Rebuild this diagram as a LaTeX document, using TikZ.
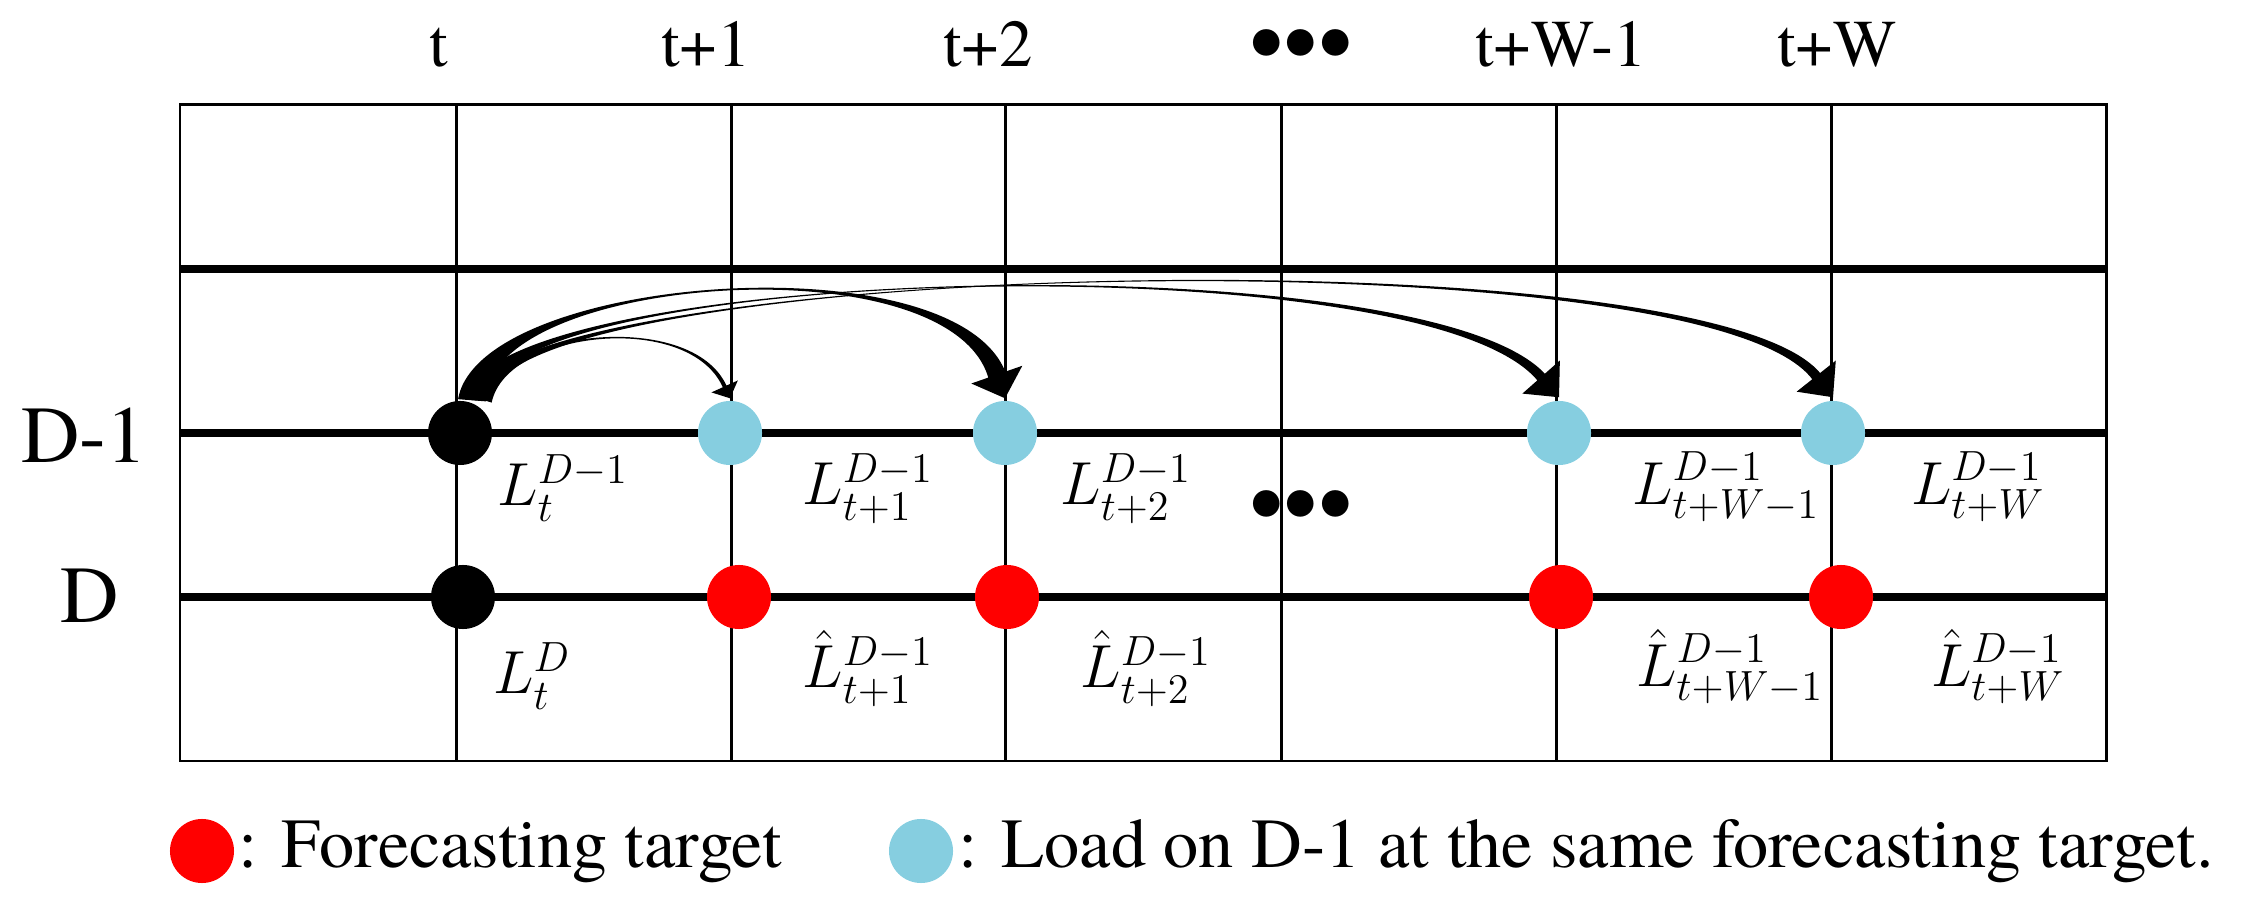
\documentclass[tikz,border=0pt]{standalone}
\usepackage{fontspec}
\setmainfont{TeX Gyre Termes}
\usetikzlibrary{calc}
\definecolor{dotblue}{RGB}{134,206,224}
\definecolor{dotred}{RGB}{255,0,0}
% tapered curved arrow: start, ctrl1, ctrl2, tip, start width, mid offset, end width, head length, head width (px)
\newcommand{\tarrow}[9]{%
  \pgfmathsetlengthmacro\tpa{#5*0.14226pt}%
  \pgfmathsetlengthmacro\tpm{#6*0.28453pt}%
  \pgfmathsetlengthmacro\tpb{#7*0.14226pt}%
  \pgfmathsetlengthmacro\tpL{#8*0.28453pt}%
  \pgfmathsetlengthmacro\tpW{#9*0.14226pt}%
  \coordinate (tq) at ($(#4)!\tpL!(#3)$);
  \fill ($(#1)!\tpa!90:(#2)$) .. controls ($(#2)!\tpm!-90:(#1)$) and ($(#3)!\tpm!90:(tq)$) .. ($(tq)!\tpb!-90:(#3)$)
     -- ($(tq)!\tpW!-90:(#3)$) -- (#4) -- ($(tq)!\tpW!90:(#3)$) -- ($(tq)!\tpb!90:(#3)$)
     .. controls ($(#3)!\tpm!-90:(tq)$) and ($(#2)!\tpm!90:(#1)$) .. ($(#1)!\tpa!-90:(#2)$) -- cycle;
}
\begin{document}
\begin{tikzpicture}[x=0.01cm,y=-0.01cm,
  gridline/.style={line width=0.85pt},
  thickline/.style={line width=2pt},
  dotnode/.style={circle,inner sep=0pt,minimum size=0.64cm},
  bdot/.style={dotnode,fill=black},
  cdot/.style={dotnode,fill=dotblue},
  rdot/.style={dotnode,fill=dotred},
  toplab/.style={inner sep=0pt,anchor=base,font=\fontsize{19pt}{22pt}\selectfont},
  sidelab/.style={inner sep=0pt,anchor=base,font=\fontsize{23pt}{26pt}\selectfont},
  mlab/.style={inner sep=0pt,anchor=base,font=\fontsize{17pt}{20pt}\selectfont},
  leglab/.style={inner sep=0pt,anchor=base west,font=\fontsize{20pt}{24pt}\selectfont},
  dotslab/.style={inner sep=0pt,anchor=base,text height=0.3cm,text depth=0pt,font=\fontsize{28pt}{28pt}\selectfont},
]
\useasboundingbox (0,0) rectangle (2264,901);
% grid
\draw[gridline] (180,105) rectangle (2106,761);
\foreach \x in {456,731,1005,1281,1556,1831}
  \draw[gridline] (\x,105) -- (\x,761);
\foreach \y in {269,433,597}
  \draw[thickline] (180,\y) -- (2106,\y);
% dots
\node[bdot] (k1) at (460,433) {};
\node[bdot] (k2) at (463,597) {};
\node[cdot] (c1) at (730,433) {};
\node[cdot] (c2) at (1005,433) {};
\node[cdot] (c3) at (1559,433) {};
\node[cdot] (c4) at (1833,433) {};
\node[rdot] (r1) at (739,597) {};
\node[rdot] (r2) at (1007,597) {};
\node[rdot] (r3) at (1561,597) {};
\node[rdot] (r4) at (1841,597) {};
% arrows
\coordinate (s1) at ($(k1.north)+(24,0)$);
\coordinate (s2) at ($(k1.north)+(12,0)$);
\coordinate (s3) at ($(k1.north)+(16,0)$);
\coordinate (s4) at ($(k1.north)+(20,0)$);
\coordinate (e1) at ($(c1.north)+(0,-2)$);
\coordinate (e2) at ($(c2.north)+(0,-2)$);
\coordinate (e3) at ($(c3.north)+(0,-3)$);
\coordinate (e4) at ($(c4.north)+(0,-3)$);
\tarrow{s1}{505,330}{690,310}{e1}{16}{1.5}{4}{13}{29}
\tarrow{s2}{482,275}{950,240}{e2}{28}{2.2}{18}{25}{54}
\tarrow{s3}{484,265}{1420,240}{e3}{22}{0.3}{10}{27}{50}
\tarrow{s4}{486,262}{1700,230}{e4}{22}{0.3}{10}{27}{50}
% top labels
\node[toplab] (lt0) at (439,67) {t};
\node[toplab] (lt1) at (706,67) {t+1};
\node[toplab] (lt2) at (988,67) {t+2};
\node[dotslab] (ltd) at (1301,76) {•••};
\node[toplab] (lt3) at (1561,67) {t+W-1};
\node[toplab] (lt4) at (1837,67) {t+W};
% side labels
\node[sidelab] (sd1) at (84,463) {D-1};
\node[sidelab] (sd0) at (90,623) {D};
% math labels
\node[mlab] (m0) at (563,506) {$L_t^{D-1}$};
\node[mlab] (m1) at (868,505) {$L_{t+1}^{D-1}$};
\node[mlab] (m2) at (1126,505) {$L_{t+2}^{D-1}$};
\node[dotslab] (md) at (1301,537) {•••};
\node[mlab] (m3) at (1726,505) {$L_{t+W-1}^{D-1}$};
\node[mlab] (m4) at (1978,505) {$L_{t+W}^{D-1}$};
\node[mlab] (h0) at (532,694) {$L_t^{D}$};
\node[mlab] (h1) at (868,688) {$\hat{L}_{t+1}^{D-1}$};
\node[mlab] (h2) at (1146,688) {$\hat{L}_{t+2}^{D-1}$};
\node[mlab] (h3) at (1730,687) {$\hat{L}_{t+W-1}^{D-1}$};
\node[mlab] (h4) at (1998,687) {$\hat{L}_{t+W}^{D-1}$};
% legend
\node[rdot] (lr) at (202,851) {};
\node[leglab] (lrt) at (238,867) {: Forecasting target};
\node[cdot] (lb) at (921,851) {};
\node[leglab] (lbt) at (958,867) {: Load on D-1 at the same forecasting target.};
\end{tikzpicture}
\end{document}
